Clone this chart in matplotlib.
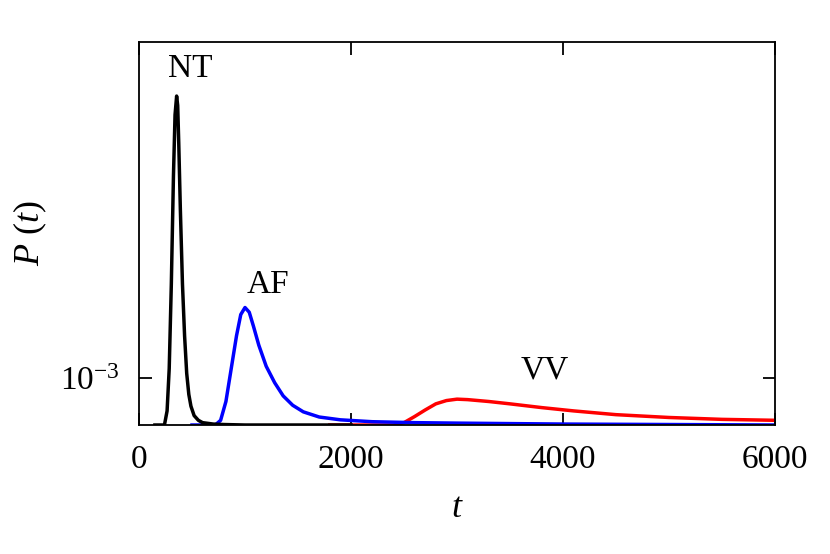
import matplotlib
matplotlib.use("Agg")
import matplotlib.pyplot as plt

plt.rcParams["font.family"] = "Liberation Serif"
plt.rcParams["mathtext.fontset"] = "custom"
plt.rcParams["mathtext.rm"] = "Liberation Serif"
plt.rcParams["mathtext.it"] = "Liberation Serif:italic"

# values (P in units of 1e-3)
nt_t = [150, 240, 265, 285, 305, 325, 340, 355, 365, 375, 390, 410, 430, 450, 470, 490, 520, 560, 600, 700, 800, 1000, 2000]
nt_p = [0.0, 0.0, 0.3, 1.2, 3.0, 5.3, 6.6, 7.0, 6.8, 6.0, 4.6, 3.0, 1.9, 1.1, 0.65, 0.4, 0.2, 0.1, 0.05, 0.02, 0.01, 0.0, 0.0]

af_t = [500, 720, 770, 820, 870, 920, 960, 1000, 1040, 1080, 1130, 1200, 1280, 1360, 1450, 1550, 1700, 1900, 2200, 2600, 3000, 4000, 5000, 6000]
af_p = [0.0, 0.0, 0.1, 0.5, 1.2, 1.9, 2.35, 2.5, 2.4, 2.1, 1.7, 1.25, 0.9, 0.62, 0.42, 0.28, 0.17, 0.11, 0.07, 0.05, 0.04, 0.02, 0.01, 0.0]

vv_t = [1800, 2400, 2500, 2600, 2700, 2800, 2900, 3000, 3100, 3300, 3500, 3800, 4100, 4500, 5000, 5500, 6000]
vv_p = [0.0, 0.0, 0.05, 0.18, 0.32, 0.45, 0.52, 0.55, 0.54, 0.5, 0.45, 0.37, 0.3, 0.22, 0.16, 0.12, 0.1]

fig = plt.figure(figsize=(8.3, 5.54), dpi=100)
ax = fig.add_axes([139 / 830, 1 - 425 / 554, 636 / 830, 383 / 554])
ax.plot(vv_t, [v * 1e-3 for v in vv_p], color="red", lw=2.5)
ax.plot(af_t, [v * 1e-3 for v in af_p], color="blue", lw=2.5)
ax.plot(nt_t, [v * 1e-3 for v in nt_p], color="black", lw=2.5)

ax.set_xlim(0, 6000)
ax.set_ylim(0, 8.15e-3)
ax.set_xticks([0, 2000, 4000, 6000])
ax.set_yticks([1e-3])
ax.set_yticklabels(["10$^{-3}$"])
for s in ax.spines.values():
    s.set_linewidth(1.3)
ax.tick_params(direction="in", top=True, right=True, labelsize=24, length=9, width=1.3, pad=14)
ax.set_xlabel("$t$", fontsize=26, labelpad=12)
ax.set_ylabel("$P$ $(t)$", fontsize=26, labelpad=8)

ax.text(480, 7.25e-3, "NT", fontsize=24, ha="center", va="bottom")
ax.text(1220, 2.65e-3, "AF", fontsize=24, ha="center", va="bottom")
ax.text(3830, 0.85e-3, "VV", fontsize=24, ha="center", va="bottom")

fig.savefig("out.png", dpi=100)
